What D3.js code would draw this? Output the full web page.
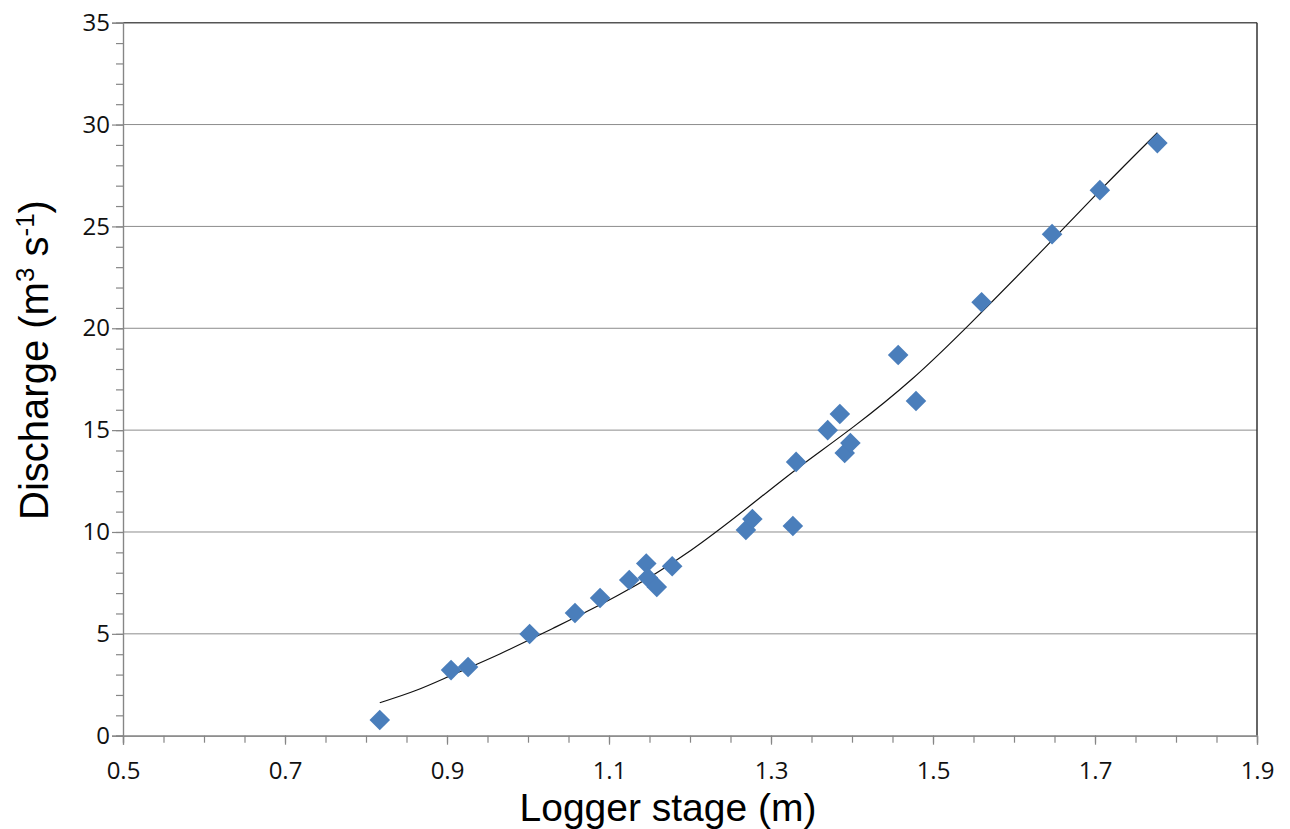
<!DOCTYPE html>
<html>
<head>
<meta charset="utf-8">
<script src="https://cdn.jsdelivr.net/npm/d3@7"></script>
<style>
  html, body { margin: 0; padding: 0; background: #fff; }
  svg { display: block; }
</style>
</head>
<body>
<svg id="chart" width="1290" height="829"></svg>
<script>
// Measured stage (m) and discharge (m3/s) pairs
const stage = [0.817, 0.905, 0.926, 1.002, 1.058, 1.089, 1.125, 1.146, 1.148, 1.159, 1.178,
               1.269, 1.277, 1.327, 1.331, 1.370, 1.385, 1.391, 1.398, 1.457, 1.479,
               1.560, 1.647, 1.706, 1.777];
const discharge = [0.77, 3.22, 3.37, 4.99, 6.02, 6.76, 7.64, 8.45, 7.75, 7.3, 8.32,
                   10.10, 10.64, 10.29, 13.44, 15.0, 15.79, 13.88, 14.37, 18.69, 16.43,
                   21.28, 24.62, 26.78, 29.09];

// Rating-curve trendline (stage, discharge)
const trendStage = [0.817, 0.863, 0.904, 0.965, 1.027, 1.110, 1.200, 1.295, 1.336, 1.401,
                    1.475, 1.542, 1.644, 1.710, 1.777];
const trendDischarge = [1.62, 2.2, 2.95, 3.98, 5.2, 6.8, 8.95, 11.95, 13.25, 15.1,
                        17.46, 20.05, 24.17, 26.95, 29.6];

// Axis ticks
const xTickLabels = [0.5, 0.7, 0.9, 1.1, 1.3, 1.5, 1.7, 1.9];
const yTickLabels = [0, 5, 10, 15, 20, 25, 30, 35];

const svg = d3.select("#chart");
const plotLeft = 123, plotRight = 1257, plotTop = 22.7, plotBottom = 735.7;

const x = d3.scaleLinear().domain([0.5, 1.9]).range([plotLeft, plotRight]);
const y = d3.scaleLinear().domain([0, 35]).range([plotBottom, plotTop]);

const gridColor = "#8c8c8c";
const axisColor = "#868686";
const tickFont = "'Open Sans', 'Noto Sans', sans-serif";
const tickSizePx = 24;

// Horizontal gridlines
svg.append("g")
  .selectAll("line")
  .data(yTickLabels.filter(v => v > 0))
  .join("line")
  .attr("x1", plotLeft).attr("x2", plotRight)
  .attr("y1", d => y(d)).attr("y2", d => y(d))
  .attr("stroke", d => d === 35 ? "#555" : gridColor)
  .attr("stroke-width", d => d === 35 ? 1.5 : 1);

// Right border of plot area
svg.append("line")
  .attr("x1", plotRight).attr("x2", plotRight)
  .attr("y1", plotTop).attr("y2", plotBottom)
  .attr("stroke", "#333").attr("stroke-width", 1.5);

// Y axis: major ticks every 5, minor every 1
const yMinor = d3.range(0, 36, 1);
const yAxisMinor = d3.axisLeft(y).tickValues(yMinor).tickSize(7).tickFormat("");
const yAxisMajor = d3.axisLeft(y).tickValues(yTickLabels).tickSize(11).tickPadding(2)
  .tickFormat(d3.format("d"));

const gyMinor = svg.append("g").attr("transform", `translate(${plotLeft},0)`).call(yAxisMinor);
const gyMajor = svg.append("g").attr("transform", `translate(${plotLeft},0)`).call(yAxisMajor);
[gyMinor, gyMajor].forEach(g => {
  g.select(".domain").attr("stroke", axisColor).attr("stroke-width", 1.2);
  g.selectAll(".tick line").attr("stroke", axisColor).attr("stroke-width", 1.2);
});
gyMajor.selectAll(".tick text")
  .attr("font-family", tickFont).attr("font-size", tickSizePx).attr("fill", "#111");

// X axis: labels every 0.2, ticks every 0.05
const xMinor = d3.range(0, 29).map(i => +(0.5 + i * 0.05).toFixed(2));
const xAxisMinor = d3.axisBottom(x).tickValues(xMinor).tickSize(7).tickFormat("");
const xAxisMajor = d3.axisBottom(x).tickValues(xTickLabels).tickSize(9).tickPadding(17)
  .tickFormat(d3.format(".1f"));

const gxMinor = svg.append("g").attr("transform", `translate(0,${plotBottom})`).call(xAxisMinor);
const gxMajor = svg.append("g").attr("transform", `translate(0,${plotBottom})`).call(xAxisMajor);
[gxMinor, gxMajor].forEach(g => {
  g.select(".domain").attr("stroke", axisColor).attr("stroke-width", 1.2);
  g.selectAll(".tick line").attr("stroke", axisColor).attr("stroke-width", 1.2);
});
gxMajor.selectAll(".tick text")
  .attr("font-family", tickFont).attr("font-size", tickSizePx).attr("fill", "#111");

// Trendline
const trend = trendStage.map((s, i) => [s, trendDischarge[i]]);
svg.append("path")
  .datum(trend)
  .attr("fill", "none")
  .attr("stroke", "#111")
  .attr("stroke-width", 1.2)
  .attr("d", d3.line().x(d => x(d[0])).y(d => y(d[1])).curve(d3.curveBasis));

// Observations as diamonds
const pts = stage.map((s, i) => ({ s, q: discharge[i] }));
const diamond = d3.symbol().type(d3.symbolDiamond2).size(270);
svg.append("g")
  .selectAll("path")
  .data(pts)
  .join("path")
  .attr("transform", d => `translate(${x(d.s)},${y(d.q)})`)
  .attr("d", diamond)
  .attr("fill", "#4a7ebb");

// Axis titles
svg.append("text")
  .attr("x", 668).attr("y", 821)
  .attr("text-anchor", "middle")
  .attr("font-family", "'Liberation Sans', Arial, sans-serif")
  .attr("font-size", 39)
  .attr("fill", "#000")
  .text("Logger stage (m)");

const yTitle = svg.append("text")
  .attr("transform", "translate(48,360) rotate(-90)")
  .attr("text-anchor", "middle")
  .attr("font-family", "'Liberation Sans', Arial, sans-serif")
  .attr("font-size", 40)
  .attr("fill", "#000");
yTitle.append("tspan").text("Discharge (m");
yTitle.append("tspan").attr("font-size", 26).attr("dy", -14).text("3");
yTitle.append("tspan").attr("dy", 14).text(" s");
yTitle.append("tspan").attr("font-size", 26).attr("dy", -14).text("-1");
yTitle.append("tspan").attr("dy", 14).text(")");
</script>
</body>
</html>
